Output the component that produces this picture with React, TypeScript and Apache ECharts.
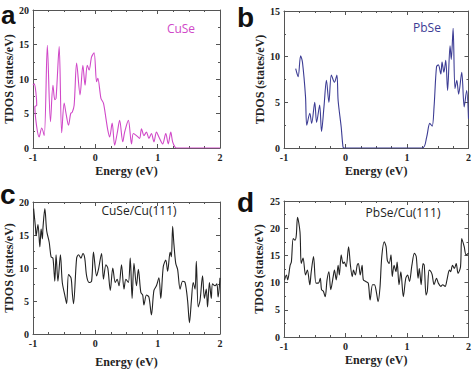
import React, { useEffect, useRef } from "react";
import * as echarts from "echarts";

// Panel a: CuSe
const cuseE = [-1, -0.98, -0.94, -0.97, -0.9, -0.86, -0.82, -0.77, -0.72, -0.68, -0.65, -0.63, -0.58, -0.54, -0.5, -0.47, -0.43, -0.395, -0.37, -0.34, -0.3, -0.245, -0.2, -0.165, -0.13, -0.1, -0.06, -0.02, 0.02, 0.04, 0.09, 0.13, 0.17, 0.2, 0.23, 0.27, 0.31, 0.35, 0.39, 0.44, 0.47, 0.53, 0.58, 0.61, 0.66, 0.71, 0.74, 0.78, 0.82, 0.86, 0.9, 0.94, 0.98, 1.02, 1.08, 1.13, 1.17, 1.21, 1.24, 1.28, 1.3, 2];
const cuseV = [9.1, 9.3, 6.2, 6.0, 1.6, 2.9, 1.8, 14.9, 3.8, 9.1, 7.0, 7.2, 14.7, 2.2, 6.5, 5.0, 3.3, 5.0, 5.2, 6.2, 12.3, 7.7, 12.0, 9.1, 12.0, 11.3, 13.2, 13.8, 9.6, 10.1, 7.2, 6.5, 4.3, 2.6, 1.6, 3.6, 0.4, 2.1, 4.0, 0.9, 2.3, 4.0, 0.6, 2.1, 1.8, 1.4, 2.8, 1.8, 2.3, 1.4, 2.1, 0.9, 2.3, 1.6, 0.6, 2.1, 0.6, 2.3, 0.9, 0.1, 0, 0];

// Panel b: PbSe
const pbseE = [-0.81, -0.77, -0.73, -0.7, -0.65, -0.63, -0.58, -0.55, -0.5, -0.47, -0.42, -0.39, -0.35, -0.31, -0.27, -0.23, -0.18, -0.14, -0.12, -0.07, -0.04, -0.02, 1.25, 1.32, 1.37, 1.41, 1.44, 1.48, 1.51, 1.55, 1.57, 1.6, 1.63, 1.66, 1.7, 1.72, 1.75, 1.78, 1.81, 1.84, 1.89, 1.93, 1.97, 2.0];
const pbseV = [8.7, 7.8, 10.1, 9.4, 5.6, 2.5, 3.8, 2.7, 5.0, 2.8, 4.7, 1.8, 4.5, 7.4, 5.0, 8.0, 7.2, 8.0, 5.2, 2.3, 0.1, 0, 0, 1.2, 2.7, 2.4, 4.5, 8.9, 9.1, 8.1, 9.4, 8.3, 9.6, 6.3, 11.2, 9.7, 13.1, 6.5, 7.4, 5.9, 8.3, 4.5, 6.3, 3.2];

// Panel c: CuSe/Cu(111)
const cuseCuE = [-0.99, -0.96, -0.95, -0.92, -0.89, -0.87, -0.85, -0.84, -0.81, -0.78, -0.74, -0.71, -0.68, -0.65, -0.63, -0.6, -0.56, -0.53, -0.49, -0.46, -0.43, -0.39, -0.37, -0.35, -0.3, -0.27, -0.23, -0.2, -0.17, -0.14, -0.1, -0.06, -0.03, 0.02, 0.05, 0.1, 0.13, 0.17, 0.2, 0.24, 0.28, 0.32, 0.35, 0.38, 0.42, 0.46, 0.49, 0.53, 0.56, 0.59, 0.62, 0.66, 0.69, 0.73, 0.76, 0.78, 0.82, 0.86, 0.9, 0.94, 0.98, 1.02, 1.05, 1.09, 1.13, 1.16, 1.2, 1.22, 1.24, 1.26, 1.29, 1.32, 1.36, 1.4, 1.44, 1.48, 1.51, 1.54, 1.57, 1.6, 1.62, 1.65, 1.68, 1.72, 1.75, 1.78, 1.8, 1.83, 1.86, 1.88, 1.92, 1.95, 1.97, 2.0];
const cuseCuV = [19.0, 16.1, 14.9, 16.6, 13.2, 15.9, 14.4, 16.1, 19.0, 15.6, 13.9, 11.7, 11.5, 8.0, 12.0, 8.0, 12.0, 7.8, 5.9, 4.6, 9.0, 8.5, 6.3, 4.6, 11.5, 12.0, 11.5, 12.2, 11.5, 8.8, 7.8, 8.0, 12.4, 8.8, 9.8, 12.2, 8.3, 10.5, 10.0, 6.6, 10.0, 7.8, 8.3, 7.3, 10.5, 6.8, 8.3, 7.8, 11.5, 5.4, 10.7, 7.3, 9.8, 6.3, 5.9, 4.4, 5.9, 5.6, 2.9, 6.6, 7.3, 8.5, 5.4, 10.2, 11.2, 9.5, 12.4, 11.7, 16.3, 13.7, 10.7, 9.8, 6.8, 8.0, 7.8, 5.1, 1.7, 4.9, 7.8, 6.8, 11.0, 4.1, 5.1, 8.8, 5.4, 6.8, 4.1, 7.8, 5.4, 7.6, 7.3, 7.6, 5.6, 8.5];

// Panel d: PbSe/Cu(111)
const pbseCuE = [-0.99, -0.96, -0.94, -0.9, -0.88, -0.85, -0.82, -0.8, -0.78, -0.74, -0.72, -0.69, -0.65, -0.62, -0.58, -0.56, -0.52, -0.48, -0.44, -0.41, -0.39, -0.36, -0.33, -0.3, -0.27, -0.24, -0.2, -0.18, -0.15, -0.12, -0.1, -0.07, -0.04, -0.02, 0.01, 0.05, 0.08, 0.11, 0.13, 0.16, 0.19, 0.21, 0.24, 0.27, 0.29, 0.33, 0.37, 0.4, 0.44, 0.47, 0.5, 0.53, 0.56, 0.59, 0.63, 0.66, 0.68, 0.71, 0.74, 0.76, 0.79, 0.82, 0.84, 0.87, 0.9, 0.94, 0.98, 1.01, 1.04, 1.08, 1.12, 1.15, 1.18, 1.2, 1.23, 1.26, 1.28, 1.31, 1.33, 1.36, 1.39, 1.41, 1.44, 1.48, 1.51, 1.55, 1.58, 1.62, 1.65, 1.69, 1.71, 1.74, 1.77, 1.8, 1.83, 1.87, 1.89, 1.93, 1.96, 2.0];
const pbseCuV = [10.5, 11.4, 10.5, 13.2, 13.8, 18.1, 17.8, 18.7, 22.0, 19.3, 13.5, 14.5, 11.4, 12.3, 9.6, 11.7, 14.8, 9.9, 9.9, 10.8, 8.7, 8.4, 7.4, 10.5, 12.0, 8.7, 11.1, 12.3, 10.5, 13.2, 11.4, 15.1, 13.5, 13.8, 12.9, 16.6, 13.2, 11.1, 12.3, 11.4, 13.2, 13.5, 11.4, 13.2, 10.5, 10.2, 9.9, 6.8, 9.6, 9.6, 8.4, 6.5, 9.0, 14.8, 17.5, 16.6, 14.1, 13.5, 15.1, 11.1, 13.2, 12.0, 13.8, 9.6, 12.0, 7.4, 10.8, 11.4, 10.2, 13.2, 15.4, 14.8, 10.8, 12.6, 9.6, 13.5, 13.2, 7.7, 8.4, 12.3, 12.0, 11.4, 9.6, 10.8, 9.9, 9.3, 9.6, 9.3, 10.5, 12.3, 12.0, 13.2, 12.6, 13.5, 11.7, 12.9, 18.1, 16.6, 15.1, 15.4];

const xTicks = { min: -1, max: 2, interval: 1 };
const yMaxes = [20, 15, 20, 25];
const panelLetters = ["a", "b", "c", "d"];
const panelTitles = ["CuSe", "PbSe", "CuSe/Cu(111)", "PbSe/Cu(111)"];

const zip = (xs: number[], ys: number[]) => xs.map((x, i) => [x, ys[i]]);

export default function App() {
  const ref = useRef<HTMLDivElement>(null);
  useEffect(() => {
    if (!ref.current) return;
    const chart = echarts.init(ref.current, undefined, { renderer: "svg" });
    const grids = [
      { left: 33, top: 10, width: 187, height: 138 },
      { left: 284, top: 11, width: 187, height: 137 },
      { left: 33, top: 202, width: 187, height: 136 },
      { left: 284, top: 201, width: 187, height: 136 },
    ];
    const serif = "'Liberation Serif', 'Times New Roman', serif";
    const axisColor = "#555";
    const xAxes: any[] = [];
    const yAxes: any[] = [];
    const yNameGaps = [18, 15, 18, 19];
    const xNameGaps = [17, 17, 22, 17];
    grids.forEach((g, i) => {
      const common = {
        gridIndex: i,
        type: "value",
        min: xTicks.min,
        max: xTicks.max,
        interval: xTicks.interval,
        axisLine: { show: true, onZero: false, lineStyle: { color: axisColor, width: 1 } },
        axisTick: { show: true, inside: true, length: 4, lineStyle: { color: axisColor } },
        minorTick: { show: true, splitNumber: 4, length: 2, lineStyle: { color: axisColor } },
        splitLine: { show: false },
      };
      xAxes.push({
        ...common,
        position: "bottom",
        name: "Energy (eV)",
        nameLocation: "middle",
        nameGap: xNameGaps[i],
        nameTextStyle: { fontFamily: serif, fontWeight: "bold", fontSize: 12, color: "#222" },
        axisLabel: { show: true, margin: 4, fontFamily: serif, fontWeight: "bold", fontSize: 10, color: "#222" },
      });
      xAxes.push({ ...common, position: "top", axisLabel: { show: false } });
      const ycommon = {
        gridIndex: i,
        type: "value",
        min: 0,
        max: yMaxes[i],
        interval: 5,
        axisLine: { show: true, onZero: false, lineStyle: { color: axisColor, width: 1 } },
        axisTick: { show: true, inside: true, length: 4, lineStyle: { color: axisColor } },
        minorTick: { show: true, splitNumber: 2, length: 2, lineStyle: { color: axisColor } },
        splitLine: { show: false },
      };
      yAxes.push({
        ...ycommon,
        position: "left",
        name: "TDOS (states/eV)",
        nameLocation: "middle",
        nameGap: yNameGaps[i],
        nameTextStyle: { fontFamily: serif, fontWeight: "bold", fontSize: 12, color: "#222" },
        axisLabel: { show: true, margin: 4, fontFamily: serif, fontWeight: "bold", fontSize: 10, color: "#222" },
      });
      yAxes.push({ ...ycommon, position: "right", axisLabel: { show: false } });
    });
    const colors = ["#d048c8", "#3c3c94", "#222", "#222"];
    const datas = [zip(cuseE, cuseV), zip(pbseE, pbseV), zip(cuseCuE, cuseCuV), zip(pbseCuE, pbseCuV)];
    const series = datas.map((d, i) => ({
      type: "line",
      xAxisIndex: i * 2,
      yAxisIndex: i * 2,
      data: d,
      showSymbol: false,
      smooth: 0.3,
      lineStyle: { color: colors[i], width: 1.1 },
      itemStyle: { color: colors[i] },
    }));
    const letterDefs = [
      { x: 1, y: 2, size: 26, va: "top" },
      { x: 237, y: 31, size: 28, va: "bottom" },
      { x: 0, y: 208, size: 28, va: "bottom" },
      { x: 237, y: 216, size: 28, va: "bottom" },
    ];
    const titlePos = [
      [181, 28, colors[0]],
      [427, 27, colors[1]],
      [139, 210, "#222"],
      [403, 212, "#222"],
    ];
    const graphic: any[] = [];
    panelLetters.forEach((l, i) => {
      const d = letterDefs[i];
      graphic.push({
        type: "text",
        x: d.x,
        y: d.y,
        style: {
          text: l,
          font: `bold ${d.size}px 'Liberation Sans', Arial, sans-serif`,
          fill: "#111",
          textAlign: "left",
          textVerticalAlign: d.va,
        },
      });
    });
    panelTitles.forEach((t, i) => {
      graphic.push({
        type: "text",
        x: titlePos[i][0] as number,
        y: titlePos[i][1] as number,
        style: {
          text: t,
          font: "12px 'Open Sans', 'Noto Sans', sans-serif",
          fill: titlePos[i][2] as string,
          textAlign: "center",
          textVerticalAlign: "middle",
        },
      });
    });
    chart.setOption({
      animation: false,
      backgroundColor: "#fff",
      grid: grids,
      xAxis: xAxes,
      yAxis: yAxes,
      series,
      graphic,
    });
    return () => chart.dispose();
  }, []);
  return <div ref={ref} style={{ position: "fixed", left: 0, top: 0, width: 474, height: 369 }} />;
}
